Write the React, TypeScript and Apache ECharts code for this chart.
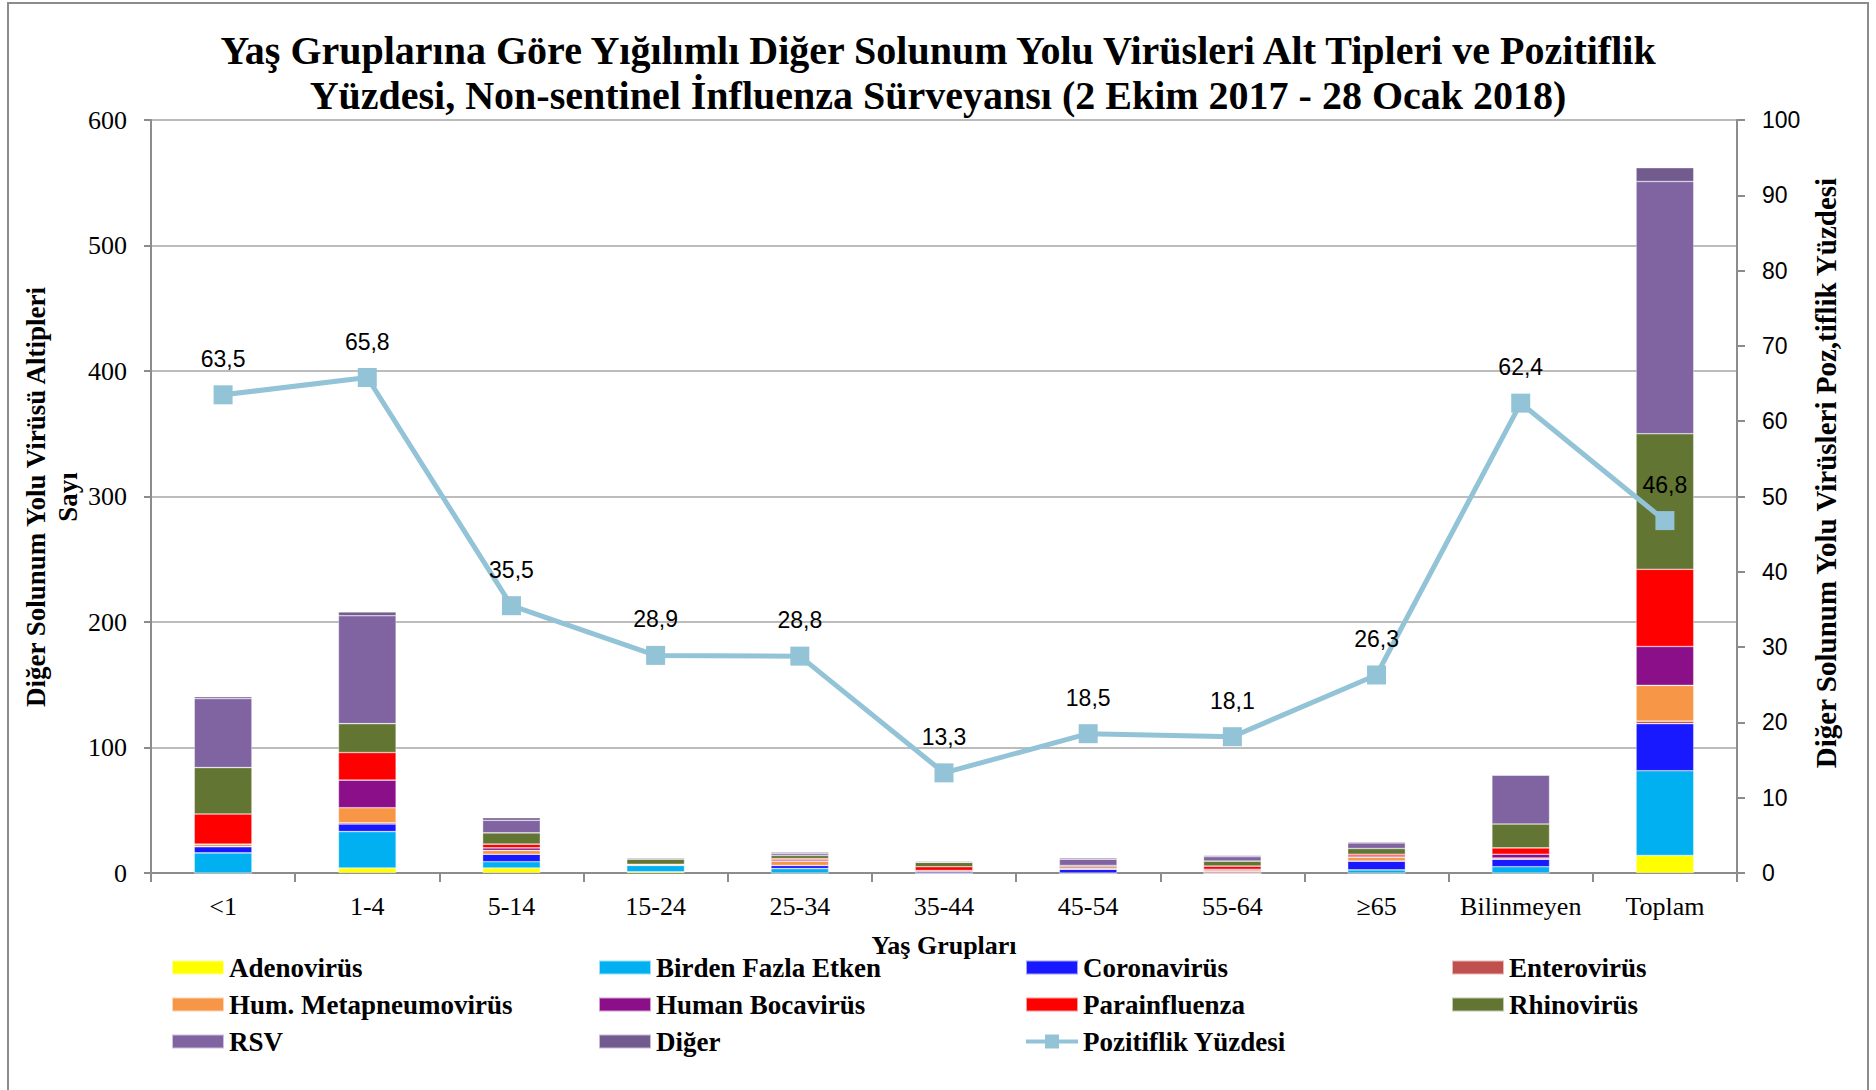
import React, { useEffect, useRef } from "react";
import * as echarts from "echarts";

const categories = ["<1", "1-4", "5-14", "15-24", "25-34", "35-44", "45-54", "55-64", "≥65", "Bilinmeyen", "Toplam"];

const adenovirus = [0, 4, 4, 1, 0, 0, 0, 0, 0, 0, 14];
const birdenFazlaEtken = [16, 29, 5, 5, 3.5, 0, 0, 0, 2.5, 5, 67.5];
const coronavirus = [5, 6, 6, 0, 2.5, 1, 3, 0, 7, 6, 37.5];
const enterovirus = [0, 1, 0, 0, 0, 1, 0, 1, 0, 0, 2];
const humMetapneumovirus = [2, 12, 3, 1, 3.5, 0, 1, 1, 3, 1, 28.5];
const humanBocavirus = [0, 22, 2, 0, 1, 0, 0, 1, 1, 3, 31];
const parainfluenza = [24, 22, 3, 0, 1, 3, 1, 2.5, 1.5, 5, 61.5];
const rhinovirus = [37, 23, 9, 4, 2.5, 3.5, 1, 4, 4.5, 19, 108];
const rsv = [55, 86, 10, 1, 1.5, 1, 5, 3.5, 4.5, 39, 201];
const diger = [1.5, 3, 2, 0, 1, 0, 1, 1, 1, 0.5, 11];

const pozitiflikYuzdesi = [63.5, 65.8, 35.5, 28.9, 28.8, 13.3, 18.5, 18.1, 26.3, 62.4, 46.8];

const leftTicks = { min: 0, max: 600, interval: 100 };
const rightTicks = { min: 0, max: 100, interval: 10 };

const barSeriesDefs = [
  { name: "Adenovirüs", data: adenovirus, color: "#FFFF00" },
  { name: "Birden Fazla Etken", data: birdenFazlaEtken, color: "#00B0F0" },
  { name: "Coronavirüs", data: coronavirus, color: "#1919FF" },
  { name: "Enterovirüs", data: enterovirus, color: "#C0504D" },
  { name: "Hum. Metapneumovirüs", data: humMetapneumovirus, color: "#F79646" },
  { name: "Human Bocavirüs", data: humanBocavirus, color: "#8C0F8A" },
  { name: "Parainfluenza", data: parainfluenza, color: "#FF0000" },
  { name: "Rhinovirüs", data: rhinovirus, color: "#627532" },
  { name: "RSV", data: rsv, color: "#8064A2" },
  { name: "Diğer", data: diger, color: "#725B8F" },
];

const LINE_NAME = "Pozitiflik Yüzdesi";
const LINE_COLOR = "#93C3D6";
const AXIS_COLOR = "#8c8c8c";
const SERIF = '"Liberation Serif", "Times New Roman", serif';
const SANS = '"Liberation Sans", Arial, sans-serif';
const LINE_LEGEND_ICON = "path://M0,5 L52,5 L52,9 L0,9 Z M19,0 L33,0 L33,14 L19,14 Z";

const legendColumns = [
  { left: 171, items: ["Adenovirüs", "Hum. Metapneumovirüs", "RSV"] },
  { left: 598, items: ["Birden Fazla Etken", "Human Bocavirüs", "Diğer"] },
  { left: 1025, items: ["Coronavirüs", "Parainfluenza", LINE_NAME] },
  { left: 1451, items: ["Enterovirüs", "Rhinovirüs"] },
];

export default function App() {
  const ref = useRef<HTMLDivElement>(null);

  useEffect(() => {
    if (!ref.current) return;
    const chart = echarts.init(ref.current, null, { renderer: "svg" });

    const series: any[] = barSeriesDefs.map((d) => ({
      name: d.name,
      type: "bar",
      stack: "total",
      barWidth: "40%",
      data: d.data,
      itemStyle: { color: d.color, borderColor: "rgba(255,255,255,0.6)", borderWidth: 0.6 },
      emphasis: { disabled: true },
    }));
    series.push({
      name: LINE_NAME,
      type: "line",
      yAxisIndex: 1,
      data: pozitiflikYuzdesi,
      symbol: "rect",
      symbolSize: 19,
      lineStyle: { color: LINE_COLOR, width: 5 },
      itemStyle: { color: LINE_COLOR },
      z: 10,
      label: {
        show: true,
        position: "top",
        distance: 15,
        formatter: (p: any) => String(p.value).replace(".", ","),
        fontFamily: SANS,
        fontSize: 23,
        color: "#000",
      },
    });

    const legends = legendColumns.map((c) => ({
      orient: "vertical",
      left: c.left,
      top: 954,
      padding: 0,
      itemWidth: 52,
      itemHeight: 14,
      itemGap: 10,
      symbolKeepAspect: false,
      data: c.items.map((n) =>
        n === LINE_NAME
          ? { name: n, icon: LINE_LEGEND_ICON, itemStyle: { color: LINE_COLOR, borderWidth: 0 } }
          : { name: n, icon: "rect" }
      ),
      textStyle: { fontFamily: SERIF, fontWeight: "bold", fontSize: 27, lineHeight: 27, color: "#000" },
    }));

    const option: any = {
      animation: false,
      backgroundColor: "#fff",
      title: {
        text: "Yaş Gruplarına Göre Yığılımlı Diğer Solunum Yolu Virüsleri Alt Tipleri ve Pozitiflik\nYüzdesi, Non-sentinel İnfluenza Sürveyansı (2 Ekim 2017 - 28 Ocak 2018)",
        left: "center",
        top: 28,
        padding: [0, 0, 0, 8],
        textStyle: { fontFamily: SERIF, fontWeight: "bold", fontSize: 40, lineHeight: 45, color: "#000" },
      },
      legend: legends,
      grid: { left: 151, right: 139, top: 120, bottom: 217, containLabel: false },
      xAxis: {
        type: "category",
        data: categories,
        axisLine: { show: true, lineStyle: { color: AXIS_COLOR, width: 2 } },
        axisTick: { show: true, length: 9, alignWithLabel: false, lineStyle: { color: AXIS_COLOR, width: 2 } },
        axisLabel: { fontFamily: SERIF, fontSize: 26, color: "#000", margin: 20, interval: 0 },
        splitLine: { show: false },
      },
      yAxis: [
        {
          type: "value",
          min: leftTicks.min,
          max: leftTicks.max,
          interval: leftTicks.interval,
          axisLine: { show: true, lineStyle: { color: AXIS_COLOR, width: 2 } },
          axisTick: { show: true, length: 7, lineStyle: { color: AXIS_COLOR, width: 2 } },
          axisLabel: { fontFamily: SERIF, fontSize: 26, color: "#000", margin: 24 },
          splitLine: { show: true, lineStyle: { color: "#a6a6a6", width: 1.5 } },
        },
        {
          type: "value",
          position: "right",
          min: rightTicks.min,
          max: rightTicks.max,
          interval: rightTicks.interval,
          axisLine: { show: true, lineStyle: { color: AXIS_COLOR, width: 2 } },
          axisTick: { show: true, length: 8, lineStyle: { color: AXIS_COLOR, width: 2 } },
          axisLabel: { fontFamily: SANS, fontSize: 23, color: "#000", margin: 25 },
          splitLine: { show: false },
        },
      ],
      graphic: [
        {
          type: "rect",
          silent: true,
          z: -10,
          shape: { x: 8, y: 3, width: 1860, height: 1100 },
          style: { fill: "none", stroke: AXIS_COLOR, lineWidth: 2 },
        },
        {
          type: "text",
          silent: true,
          x: 52,
          y: 497,
          rotation: Math.PI / 2,
          style: {
            text: "Diğer Solunum Yolu Virüsü Altipleri\nSayı",
            fontFamily: SERIF,
            fontWeight: "bold",
            fontSize: 27,
            lineHeight: 32,
            fill: "#000",
            align: "center",
            verticalAlign: "middle",
          },
        },
        {
          type: "text",
          silent: true,
          x: 1826,
          y: 473,
          rotation: Math.PI / 2,
          style: {
            text: "Diğer Solunum Yolu Virüsleri Poz,tiflik Yüzdesi",
            fontFamily: SERIF,
            fontWeight: "bold",
            fontSize: 29,
            fill: "#000",
            align: "center",
            verticalAlign: "middle",
          },
        },
        {
          type: "text",
          silent: true,
          x: 944,
          y: 945,
          style: {
            text: "Yaş Grupları",
            fontFamily: SERIF,
            fontWeight: "bold",
            fontSize: 26,
            fill: "#000",
            align: "center",
            verticalAlign: "middle",
          },
        },
      ],
      series,
    };

    chart.setOption(option);
    return () => chart.dispose();
  }, []);

  return (
    <div
      ref={ref}
      style={{ position: "fixed", left: 0, top: 0, width: 1876, height: 1090, background: "#fff" }}
    />
  );
}
